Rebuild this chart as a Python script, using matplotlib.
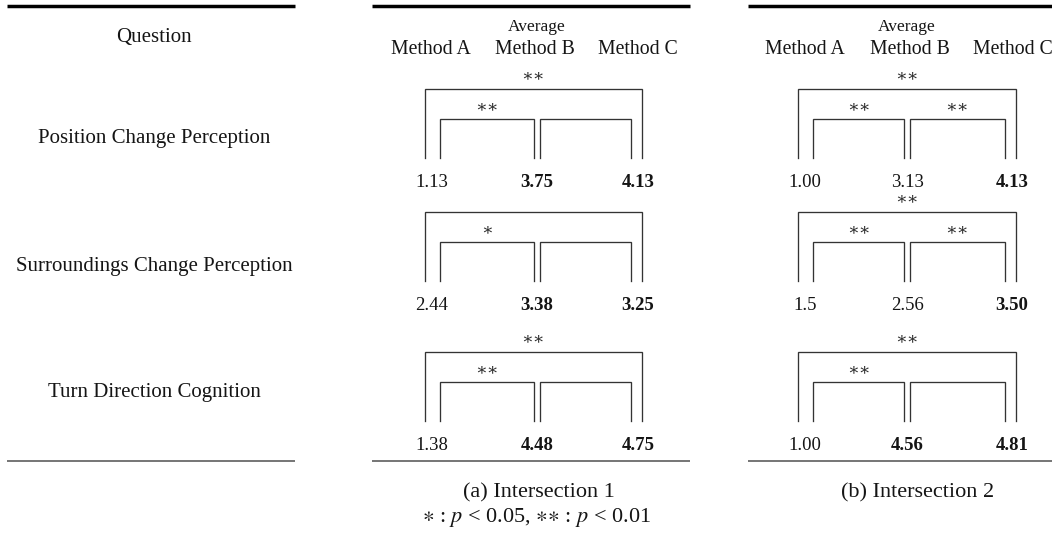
import matplotlib
matplotlib.use("Agg")
import matplotlib.pyplot as plt

# ---------------- data ----------------
questions = ["Position Change Perception",
             "Surroundings Change Perception",
             "Turn Direction Cognition"]
methods = ["Method A", "Method B", "Method C"]

int1_values = [["1.13", "3.75", "4.13"],
               ["2.44", "3.38", "3.25"],
               ["1.38", "4.48", "4.75"]]
int1_bold = [[False, True, True],
             [False, True, True],
             [False, True, True]]
# significance per row: (A vs C, A vs B, B vs C)
int1_sig = [["**", "**", ""],
            ["", "*", ""],
            ["**", "**", ""]]

int2_values = [["1.00", "3.13", "4.13"],
               ["1.5", "2.56", "3.50"],
               ["1.00", "4.56", "4.81"]]
int2_bold = [[False, False, True],
             [False, False, True],
             [False, True, True]]
int2_sig = [["**", "**", "**"],
            ["**", "**", "**"],
            ["**", "**", ""]]

captions = ["(a) Intersection 1", "(b) Intersection 2"]
header_top = "Average"
question_header = "Question"
legend_text = r"${\ast}$ : $p$ < 0.05, ${\ast}{\ast}$ : $p$ < 0.01"

# ---------------- layout (pixels) ----------------
W, H = 1052, 533
SERIF = ["Liberation Serif", "DejaVu Serif"]
STAR = ["DejaVu Serif"]
plt.rcParams["mathtext.fontset"] = "stix"

fig = plt.figure(figsize=(W / 100, H / 100), dpi=100)
ax = fig.add_axes([0, 0, 1, 1])
ax.set_xlim(0, W)
ax.set_ylim(H, 0)
ax.axis("off")

row_label_base = [143, 271, 397]
value_base = [187, 310, 450]

panels = [
    dict(left=372, right=690, cols=[432, 537, 638], heads=[431, 535, 638],
         values=int1_values, bold=int1_bold, sig=int1_sig, cap=captions[0],
         capx=539),
    dict(left=748, right=1060, cols=[805, 907, 1012], heads=[805, 910, 1013],
         values=int2_values, bold=int2_bold, sig=int2_sig, cap=captions[1],
         capx=918),
]

line_col = "#333333"
txt_col = "#151515"

# left question column
ax.plot([7, 295], [5.5, 5.5], color="black", lw=2.5, solid_capstyle="butt")
ax.plot([7, 295], [460.5, 460.5], color="#505050", lw=1.1, solid_capstyle="butt")
ax.text(154, 42, question_header, ha="center", va="baseline",
        fontsize=15, family=SERIF, color=txt_col)
for q, yb in zip(questions, row_label_base):
    ax.text(154, yb, q, ha="center", va="baseline", fontsize=15,
            family=SERIF, color=txt_col)

def bracket(x1, x2, ytop, ybot):
    ax.plot([x1, x1, x2, x2], [ybot, ytop, ytop, ybot], color=line_col,
            lw=0.95, solid_joinstyle="miter")

for p in panels:
    ax.plot([p["left"], p["right"]], [5.5, 5.5], color="black", lw=2.5,
            solid_capstyle="butt")
    ax.plot([p["left"], p["right"]], [460.5, 460.5], color="#505050", lw=1.1,
            solid_capstyle="butt")
    cA, cB, cC = p["cols"]
    ax.text(cB, 31, header_top, ha="center", va="baseline", fontsize=12.5,
            family=SERIF, color=txt_col)
    for m, hx in zip(methods, p["heads"]):
        ax.text(hx, 54, m, ha="center", va="baseline", fontsize=14.2,
                family=SERIF, color=txt_col)
    for r in range(len(questions)):
        yb = value_base[r]
        for c in range(3):
            ax.text(p["cols"][c], yb, p["values"][r][c], ha="center",
                    va="baseline", fontsize=13.5, family=SERIF,
                    fontweight="bold" if p["bold"][r][c] else "normal",
                    color=txt_col)
        leg_bot = yb - 29
        inner_top = yb - 68
        outer_top = yb - 98
        # outer A-C
        ox1, ox2 = cA - 7.5, cC + 3.5
        bracket(ox1, ox2, outer_top, leg_bot)
        # inner A-B and B-C
        ab1, ab2 = cA + 8, cB - 3
        bc1, bc2 = cB + 3, cC - 7.5
        bracket(ab1, ab2, inner_top, leg_bot)
        bracket(bc1, bc2, inner_top, leg_bot)
        s_ac, s_ab, s_bc = p["sig"][r]
        star_kw = dict(ha="center", va="center", fontsize=12.5, family=STAR,
                       color="#2a2a2a")
        if s_ac:
            ax.text((ox1 + ox2) / 2, yb - 111, s_ac.replace("*", "\u2217"), **star_kw)
        if s_ab:
            ax.text((ab1 + ab2) / 2, yb - 80, s_ab.replace("*", "\u2217"), **star_kw)
        if s_bc:
            ax.text((bc1 + bc2) / 2, yb - 80, s_bc.replace("*", "\u2217"), **star_kw)
    ax.text(p["capx"], 497, p["cap"], ha="center",
            va="baseline", fontsize=16, family=SERIF, color=txt_col)

ax.text(536, 522, legend_text, ha="center", va="baseline", fontsize=16,
        family=SERIF, color=txt_col)

fig.savefig("out.png", dpi=100)
